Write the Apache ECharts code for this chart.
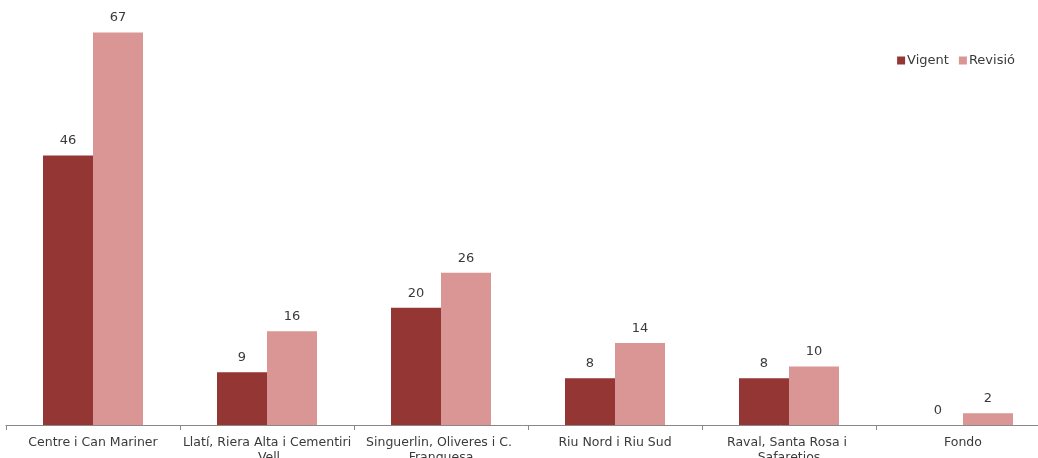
<!DOCTYPE html>
<html>
<head>
<meta charset="utf-8">
<script src="https://cdn.jsdelivr.net/npm/echarts@6/dist/echarts.min.js"></script>
<style>
    html, body { margin: 0; padding: 0; background: #fff; }
    #chart { width: 1038px; height: 458px; }
</style>
</head>
<body>
<div id="chart"></div>
<script>
// Data
const categories = [
    'Centre i Can Mariner',
    'Llatí, Riera Alta i Cementiri Vell',
    'Singuerlin, Oliveres i C. Franquesa',
    'Riu Nord i Riu Sud',
    'Raval, Santa Rosa i Safaretjos',
    'Fondo',
];
const vigent = [46, 9, 20, 8, 8, 0];
const revisio = [67, 16, 26, 14, 10, 2];

const textColor = '#3a3a3a';
const fontFamily = ['DejaVu Sans', 'Verdana', 'sans-serif'];

const chart = echarts.init(document.getElementById('chart'));

const labelOptions = {
    show: true,
    position: 'top',
    distance: 8,
    color: textColor,
    fontFamily,
    fontSize: 13,
};

chart.setOption({
    animation: false,
    color: ['#943634', '#D99694'],
    legend: {
        right: 18,
        top: 49,
        itemWidth: 8,
        itemHeight: 8,
        itemGap: 10,
        icon: 'rect',
        textStyle: { color: textColor, fontFamily, fontSize: 13, padding: [0, 0, 0, -3] },
        data: ['Vigent', 'Revisió'],
    },
    grid: { left: 6, top: 15, width: 1044, height: 410, outerBoundsMode: 'none', containLabel: false },
    xAxis: {
        type: 'category',
        data: categories,
        axisLine: { lineStyle: { color: '#888', width: 1 } },
        axisTick: { show: true, interval: 0, length: 5, lineStyle: { color: '#888' } },
        axisLabel: {
            interval: 0,
            color: textColor,
            fontFamily,
            fontSize: 12.5,
            margin: 10,
            width: 178,
            overflow: 'break',
            lineHeight: 15,
        },
    },
    yAxis: {
        type: 'value',
        min: 0,
        max: 70,
        show: false,
        splitLine: { show: false },
    },
    series: [
        {
            name: 'Vigent',
            type: 'bar',
            barWidth: 50,
            barGap: 0,
            label: labelOptions,
            data: vigent,
        },
        {
            name: 'Revisió',
            type: 'bar',
            barWidth: 50,
            barGap: 0,
            label: labelOptions,
            data: revisio,
        },
    ],
});
</script>
</body>
</html>
